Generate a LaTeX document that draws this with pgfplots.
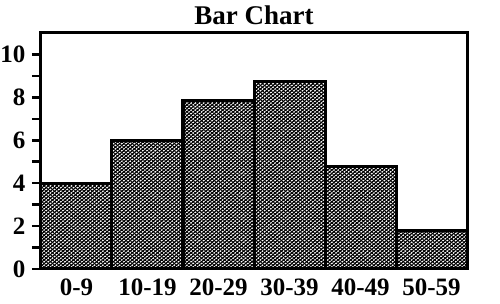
\documentclass[border=0pt]{standalone}
\usepackage{fontspec}
\setmainfont{Liberation Serif}
\usepackage{pgfplots}
\pgfplotsset{compat=1.18}
\usetikzlibrary{patterns.meta}
\begin{document}
\begin{tikzpicture}
\useasboundingbox (-41pt,-35pt) rectangle (459pt,269pt);
\begin{axis}[
  at={(0,0)}, anchor=south west,
  scale only axis, width=426pt, height=236pt,
  xmin=-0.5, xmax=5.5, ymin=0, ymax=11,
  xtick={0,1,2,3,4,5},
  xticklabels={0-9,10-19,20-29,30-39,40-49,50-59},
  ytick={0,2,4,6,8,10}, minor ytick={1,3,5,7,9},
  tick align=outside,
  major tick length=9pt, minor tick length=9pt,
  ytick pos=left,
  xtick style={draw=none},
  ytick style={line width=2.5pt, black},
  minor tick style={line width=2.5pt, black},
  axis line style={line width=3pt, line join=miter},
  /pgf/number format/assume math mode=true,
  tick label style={font=\bfseries\fontsize{25}{30}\selectfont},
  xticklabel style={yshift=3pt},
  yticklabel style={xshift=-3pt},
  title={Bar Chart},
  title style={font=\bfseries\fontsize{27}{32}\selectfont, at={(0.5,1)}, anchor=base, yshift=2pt},
  clip=false,
]
\addplot[ybar, bar width=1, draw=black, line width=3pt, line join=miter,
  preaction={fill=white},
  pattern={Lines[angle=40,distance=2.7pt,line width=0.85pt]},
  postaction={pattern={Lines[angle=-40,distance=2.7pt,line width=0.85pt]}},
  postaction={draw=black, line width=3pt}]
  coordinates {(0,4.0) (1,6.0) (2,7.85) (3,8.75) (4,4.8) (5,1.8)};
\end{axis}
\end{tikzpicture}
\end{document}
